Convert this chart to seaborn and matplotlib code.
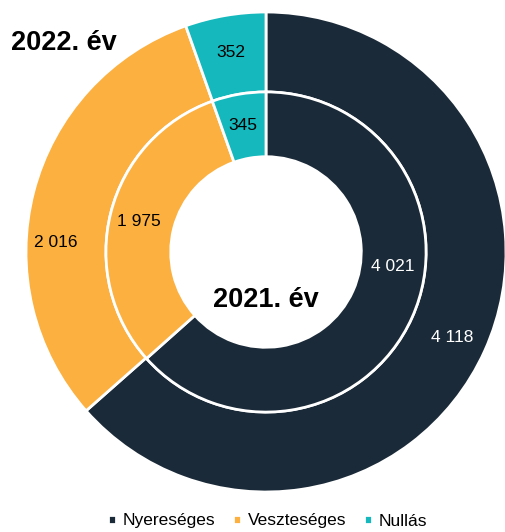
import matplotlib.pyplot as plt
import seaborn as sns

categories = ["Nyereséges", "Veszteséges", "Nullás"]
values_2022 = [4118, 2016, 352]
values_2021 = [4021, 1975, 345]
colors = ["#1b2a38", "#fbb040", "#14b8bd"]
label_colors = ["white", "black", "black"]

# label positions (data units, pie radius = 1), as placed in the original
pos_2022 = [(0.775, -0.358), (-0.875, 0.038), (-0.146, 0.833)]
pos_2021 = [(0.529, -0.062), (-0.529, 0.125), (-0.096, 0.529)]


def fmt(v):
    return f"{v:,}".replace(",", " ")


sns.set_theme(style="white")
plt.rcParams["font.family"] = ["Liberation Sans", "DejaVu Sans"]
plt.rcParams["text.color"] = "black"

fig = plt.figure(figsize=(5.05, 5.32), dpi=100)
ax = fig.add_axes([26 / 505, 40 / 532, 480 / 505, 480 / 532])

wedge_style = dict(edgecolor="white", linewidth=2)

outer, outer_txt = ax.pie(values_2022, colors=colors, radius=1.0,
                          startangle=90, counterclock=False,
                          labels=[fmt(v) for v in values_2022],
                          wedgeprops=dict(width=1 / 3, **wedge_style))
inner, inner_txt = ax.pie(values_2021, colors=colors, radius=0.667,
                          startangle=90, counterclock=False,
                          labels=[fmt(v) for v in values_2021],
                          wedgeprops=dict(width=0.27, **wedge_style))

for txt, c, p in zip(outer_txt + inner_txt, label_colors * 2, pos_2022 + pos_2021):
    txt.set_position(p)
    txt.set_ha("center")
    txt.set_va("center")
    txt.set_color(c)
    txt.set_fontsize(12.5)

ax.set_xlim(-1, 1)
ax.set_ylim(-1, 1)
ax.set_aspect("equal")

fig.text(64 / 505, 1 - 43 / 532, "2022. év", fontsize=19.5, fontweight="bold",
         ha="center", va="center", color="black")
ax.text(0, -0.2, "2021. év", fontsize=19.5, fontweight="bold",
        ha="center", va="center", color="black")

fig.legend(outer, categories, loc="center", bbox_to_anchor=(0.53, 1 - 521 / 532),
           ncol=3, frameon=False, fontsize=12.5, handlelength=0.45,
           handleheight=0.45, handletextpad=0.4, columnspacing=1.0,
           labelcolor="black")

fig.savefig("out.png", dpi=100)
